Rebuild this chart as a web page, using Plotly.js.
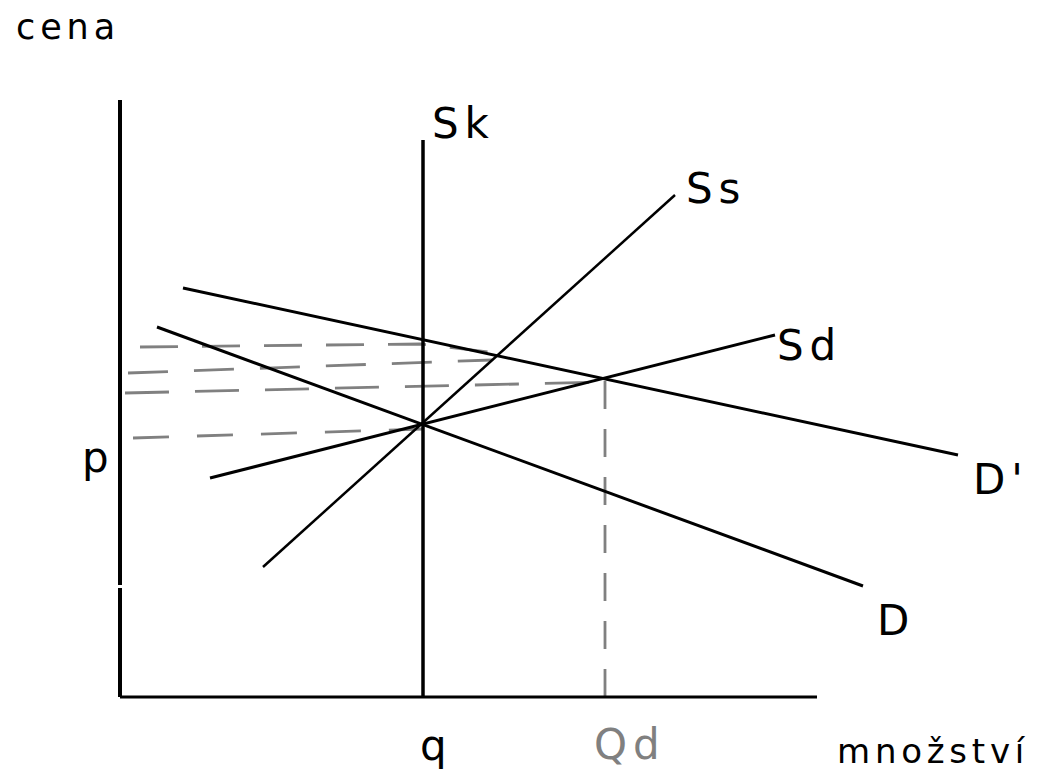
<!DOCTYPE html>
<html>
<head>
<meta charset="utf-8">
<script src="https://cdn.plot.ly/plotly-3.0.1.min.js"></script>
<style>
  html, body { margin: 0; padding: 0; background: #ffffff; }
  #chart { width: 1037px; height: 773px; }
  .annotation-text { letter-spacing: 0.14em; }
</style>
</head>
<body>
<div id="chart"></div>
<script>
// ---- data (abstract quantity / price units) ----
const dX = [3.7, 74.3],   dY = [37.0, 11.1];      // D
const dpX = [6.3, 83.8],  dpY = [40.9, 24.2];     // D'
const ssX = [14.3, 55.5], ssY = [13.0, 50.2];     // Ss
const sdX = [9.0, 65.5],  sdY = [21.9, 36.2];     // Sd
const skX = [30.3, 30.3], skY = [0, 55.7];        // Sk (vertical)
const qdX = [48.5, 48.5], qdY = [0, 31.7];        // Qd guide
const guideAX = [2.0, 30.0, 37.7], guideAY = [35.0, 35.3, 34.4];
const guideBX = [0.8, 37.2],       guideBY = [32.4, 33.7];
const guideCX = [0.5, 48.7],       guideCY = [30.4, 31.5];
const guideEX = [1.3, 30.3],       guideEY = [25.9, 26.8];
const yAxisLowY = [0, 10.9], yAxisHighY = [11.2, 59.7];
const xAxisX = [0, 69.7];

const black = '#000000', gray = '#808080';
function seg(x, y, color, width, dash) {
  return { x: x, y: y, type: 'scatter', mode: 'lines', hoverinfo: 'skip', showlegend: false,
           line: { color: color, width: width, dash: dash || 'solid' } };
}

const traces = [
  seg(guideAX, guideAY, gray, 2.8, '38px,24px'),
  seg(guideBX, guideBY, gray, 2.8, '40px,26px'),
  seg(guideCX, guideCY, gray, 2.8, '44px,26px'),
  seg(guideEX, guideEY, gray, 2.8, '36px,28px'),
  seg(qdX, qdY, gray, 2.8, '28px,20px'),
  seg([0, 0], yAxisLowY, black, 4),
  seg([0, 0], yAxisHighY, black, 4),
  seg(xAxisX, [0, 0], black, 3),
  seg(skX, skY, black, 3.5),
  seg(dX, dY, black, 3),
  seg(dpX, dpY, black, 3),
  seg(sdX, sdY, black, 3),
  seg(ssX, ssY, black, 2.5)
];

const fam = 'DejaVu Sans, sans-serif';
function lab(text, x, y, size, color) {
  return { text: text, x: x, y: y, xref: 'x', yref: 'y', showarrow: false,
           xanchor: 'left', yanchor: 'middle', borderpad: 0,
           font: { family: fam, size: size, color: color || black } };
}

const layout = {
  width: 1037, height: 773,
  margin: { l: 0, r: 0, t: 0, b: 0, pad: 0 },
  paper_bgcolor: '#ffffff', plot_bgcolor: '#ffffff',
  xaxis: { range: [-12, 91.7], visible: false, fixedrange: true },
  yaxis: { range: [-7.6, 69.7], visible: false, fixedrange: true },
  annotations: [
    lab('cena', -10.5, 67.0, 35),
    lab('Sk', 31.1, 57.35, 42),
    lab('Ss', 56.5, 50.9, 42),
    lab('Sd', 65.6, 35.2, 42),
    lab("D'", 85.2, 21.75, 42),
    lab('D', 75.6, 7.7, 42),
    lab('p', -3.9, 23.95, 42),
    lab('q', 29.9, -4.85, 42),
    lab('Qd', 47.3, -4.75, 42, gray),
    lab('množství', 71.6, -5.4, 34)
  ]
};

Plotly.newPlot('chart', traces, layout, { staticPlot: true, displayModeBar: false });
</script>
</body>
</html>
